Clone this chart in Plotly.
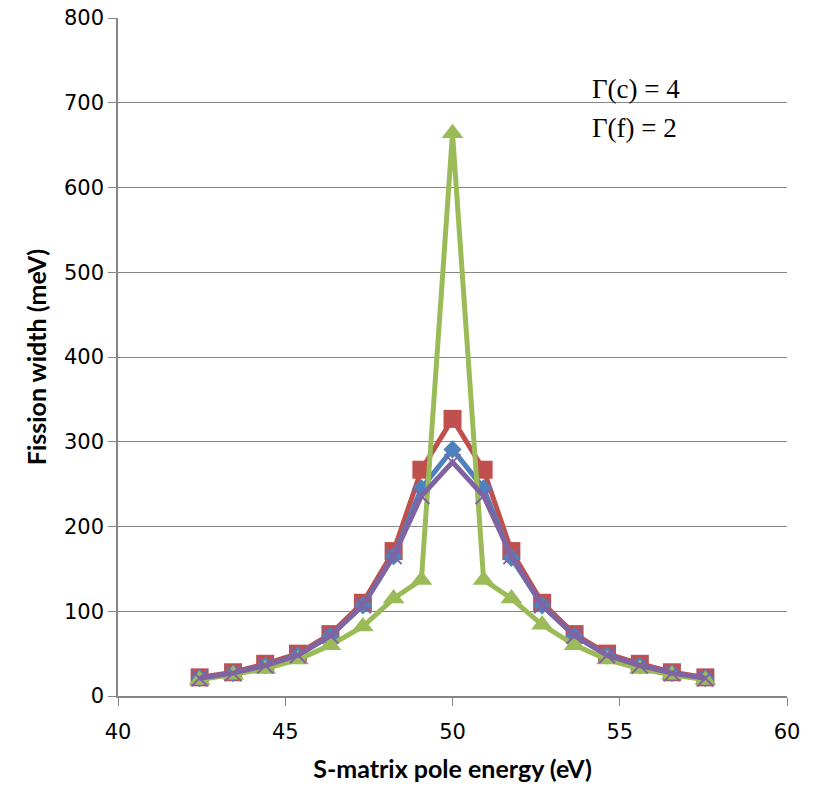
import plotly.graph_objects as go

energy = [42.44, 43.44, 44.40, 45.38, 46.35, 47.32, 48.24, 49.07, 50.00,
          50.93, 51.76, 52.68, 53.65, 54.62, 55.60, 56.56, 57.56]
red_vals = [22, 28, 38, 50, 73, 110, 171, 267, 327, 267, 171, 110, 73, 50, 38, 28, 22]
blue_vals = [21, 27, 36, 48, 71, 107, 165, 245, 291, 245, 163, 107, 71, 48, 36, 27, 21]
green_vals = [19, 25, 32, 43, 60, 82, 115, 137, 664, 137, 115, 84, 60, 43, 32, 25, 19]
purple_vals = [21, 27, 36, 48, 71, 107, 165, 236, 276, 236, 165, 107, 71, 48, 36, 27, 21]

x_ticks = [40, 45, 50, 55, 60]
y_ticks = [0, 100, 200, 300, 400, 500, 600, 700, 800]

fig = go.Figure()

series = [
    ("red", red_vals, "#C0504D", "square", 18, 0),
    ("blue", blue_vals, "#4F81BD", "diamond", 14, 0),
    ("green", green_vals, "#9BBB59", "triangle-up", 19, 0),
    ("purple", purple_vals, "#8064A2", "x-thin", 16, 2),
]
for name, vals, col, sym, size, lw in series:
    fig.add_trace(go.Scatter(
        x=energy, y=vals, mode="lines+markers", name=name,
        line=dict(color=col, width=5),
        marker=dict(symbol=sym, size=size, color=col,
                    line=dict(color=col, width=lw)),
        showlegend=False,
    ))

fig.add_annotation(x=0.705, y=0.895, xref="paper", yref="paper",
                   text="Γ(c) = 4", showarrow=False, xanchor="left",
                   yanchor="middle",
                   font=dict(family="Liberation Serif", size=27, color="black"))
fig.add_annotation(x=0.705, y=0.838, xref="paper", yref="paper",
                   text="Γ(f) = 2", showarrow=False, xanchor="left",
                   yanchor="middle",
                   font=dict(family="Liberation Serif", size=27, color="black"))

axis_col = "#868686"
fig.update_layout(
    width=817, height=785,
    margin=dict(l=118, r=30, t=18, b=89, autoexpand=False),
    plot_bgcolor="white", paper_bgcolor="white",
    xaxis=dict(range=[40, 60], tickvals=x_ticks, ticks="outside", ticklen=8,
               tickcolor=axis_col, showline=True, linecolor=axis_col,
               linewidth=1.5, showgrid=False, zeroline=False,
               automargin=False, ticklabelstandoff=8,
               tickfont=dict(family="DejaVu Sans", size=21, color="black"),
               title=dict(text="<b>S-matrix pole energy (eV)</b>",
                          font=dict(family="Lato", size=25, color="black"),
                          standoff=18)),
    yaxis=dict(range=[0, 800], tickvals=y_ticks, ticks="outside", ticklen=8,
               tickcolor=axis_col, showline=True, linecolor=axis_col,
               linewidth=1.5, showgrid=True, gridcolor=axis_col, gridwidth=1.2,
               zeroline=False, automargin=False,
               tickfont=dict(family="DejaVu Sans", size=21, color="black"),
               title=dict(text="<b>Fission width (meV)</b>",
                          font=dict(family="Lato", size=25, color="black"),
                          standoff=10)),
)

fig.write_html("out.html")
